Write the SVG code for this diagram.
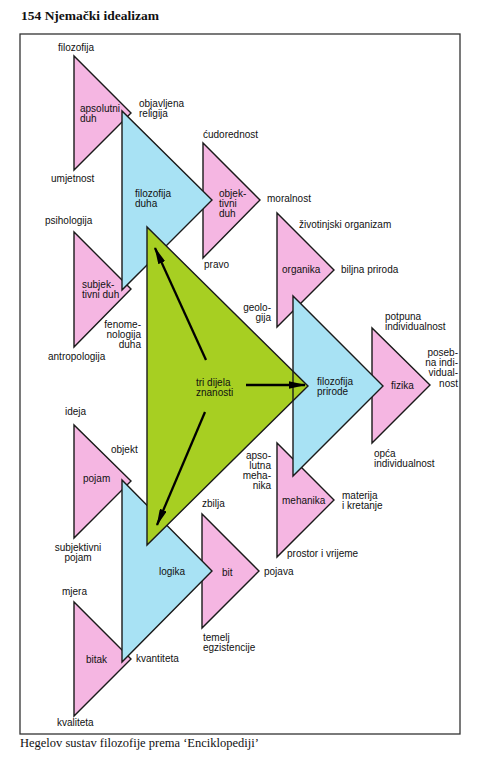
<svg xmlns="http://www.w3.org/2000/svg" width="477" height="778" viewBox="0 0 477 778">
<style>
.pk{fill:#f5b6e2;stroke:#1a1a1a;stroke-width:1.4;stroke-linejoin:miter}
.bl{fill:#a8e2f4;stroke:#1a1a1a;stroke-width:1.4}
.gr{fill:#a7cf22;stroke:#1a1a1a;stroke-width:1.4}
text{font-family:"Liberation Sans",Arial,sans-serif;font-size:10px;fill:#111}
.e{text-anchor:end}
.m{text-anchor:middle}
.ser{font-family:"Liberation Serif","Times New Roman",serif}
.ar{stroke:#000;stroke-width:2.3;fill:none}
</style>
<defs>
<marker id="ah" markerWidth="7.5" markerHeight="3.2" refX="7" refY="1.6" orient="auto" markerUnits="strokeWidth">
<path d="M0,0 L7.5,1.6 L0,3.2 z" fill="#000"/>
</marker>
</defs>
<rect width="477" height="778" fill="#fff"/>
<text class="ser" x="21" y="20" style="font-size:13.5px;font-weight:bold">154  Njemački idealizam</text>
<rect x="20" y="34" width="440" height="700" fill="none" stroke="#333" stroke-width="1.3"/>
<text class="ser" x="20" y="747" style="font-size:12.5px">Hegelov sustav filozofije prema ‘Enciklopediji’</text>

<g id="apsolutni-duh"><polygon class="pk" points="74,56 74,170 131,113"/><text x="80" y="112">apsolutni</text><text x="80" y="122">duh</text></g>
<g id="subjektivni-duh"><polygon class="pk" points="74,232 74,347 131,289"/><text x="82" y="288">subjek-</text><text x="82" y="298">tivni duh</text></g>
<g id="objektivni-duh"><polygon class="pk" points="203,143 203,258 260,200"/><text x="219" y="197">objek-</text><text x="219" y="207">tivni</text><text x="219" y="217">duh</text></g>
<g id="organika"><polygon class="pk" points="277,213 277,327 334,270"/><text x="282" y="273">organika</text></g>
<g id="fizika"><polygon class="pk" points="372,328 372,443 430,385"/><text x="391" y="389">fizika</text></g>
<g id="mehanika"><polygon class="pk" points="277,443 277,557 334,500"/><text x="282" y="504">mehanika</text></g>
<g id="pojam"><polygon class="pk" points="74,425 74,538 131,481"/><text x="83" y="482">pojam</text></g>
<g id="bit"><polygon class="pk" points="202,514 202,628 259,571"/><text x="222" y="576">bit</text></g>
<g id="bitak"><polygon class="pk" points="74,602 74,716 131,659"/><text x="86" y="663">bitak</text></g>

<g id="filozofija-duha"><polygon class="bl" points="122,111 122,290 212,200"/><text x="135" y="197">filozofija</text><text x="135" y="207">duha</text></g>
<g id="filozofija-prirode"><polygon class="bl" points="293,296 293,476 383,386"/><text x="317" y="385">filozofija</text><text x="317" y="395">prirode</text></g>
<g id="logika"><polygon class="bl" points="122,480 122,662 212,571"/><text x="159" y="575">logika</text></g>

<g id="tri-dijela-znanosti"><polygon class="gr" points="147,227 147,545 308,386"/><line x1="293" y1="371" x2="293" y2="401" stroke="#1a1a1a" stroke-width="1.4"/><text x="196" y="386">tri dijela</text><text x="196" y="396">znanosti</text></g>

<g id="connectors">
<line class="ar" x1="206" y1="360" x2="155" y2="248" marker-end="url(#ah)"/>
<line class="ar" x1="246" y1="385" x2="305" y2="385" marker-end="url(#ah)"/>
<line class="ar" x1="205" y1="412" x2="157" y2="525" marker-end="url(#ah)"/>
</g>

<g id="labels">
<text x="58" y="51">filozofija</text>
<text x="139" y="107">objavljena</text>
<text x="139" y="117">religija</text>
<text x="51" y="182">umjetnost</text>
<text x="203" y="138">ćudorednost</text>
<text x="267" y="202">moralnost</text>
<text x="204" y="268">pravo</text>
<text x="299" y="228">životinjski organizam</text>
<text x="341" y="273">biljna priroda</text>
<text x="45" y="224">psihologija</text>
<text class="e" x="141" y="328">fenome-</text>
<text class="e" x="141" y="338">nologija</text>
<text class="e" x="141" y="348">duha</text>
<text x="48" y="360">antropologija</text>
<text class="e" x="271" y="311">geolo-</text>
<text class="e" x="271" y="321">gija</text>
<text x="385" y="320">potpuna</text>
<text x="385" y="330">individualnost</text>
<text class="e" x="458" y="356">poseb-</text>
<text class="e" x="458" y="366">na indi-</text>
<text class="e" x="458" y="376">vidual-</text>
<text class="e" x="458" y="387">nost</text>
<text x="374" y="457">opća</text>
<text x="374" y="467">individualnost</text>
<text class="e" x="271" y="459">apso-</text>
<text class="e" x="271" y="469">lutna</text>
<text class="e" x="271" y="479">meha-</text>
<text class="e" x="271" y="489">nika</text>
<text x="342" y="499">materija</text>
<text x="342" y="509">i kretanje</text>
<text x="287" y="557">prostor i vrijeme</text>
<text x="202" y="507">zbilja</text>
<text x="264" y="575">pojava</text>
<text x="65" y="415">ideja</text>
<text x="111" y="453">objekt</text>
<text class="m" x="78" y="551">subjektivni</text>
<text class="m" x="78" y="561">pojam</text>
<text x="62" y="595">mjera</text>
<text x="203" y="641">temelj</text>
<text x="203" y="651">egzistencije</text>
<text x="136" y="662">kvantiteta</text>
<text x="57" y="726">kvaliteta</text>
</g>
</svg>
